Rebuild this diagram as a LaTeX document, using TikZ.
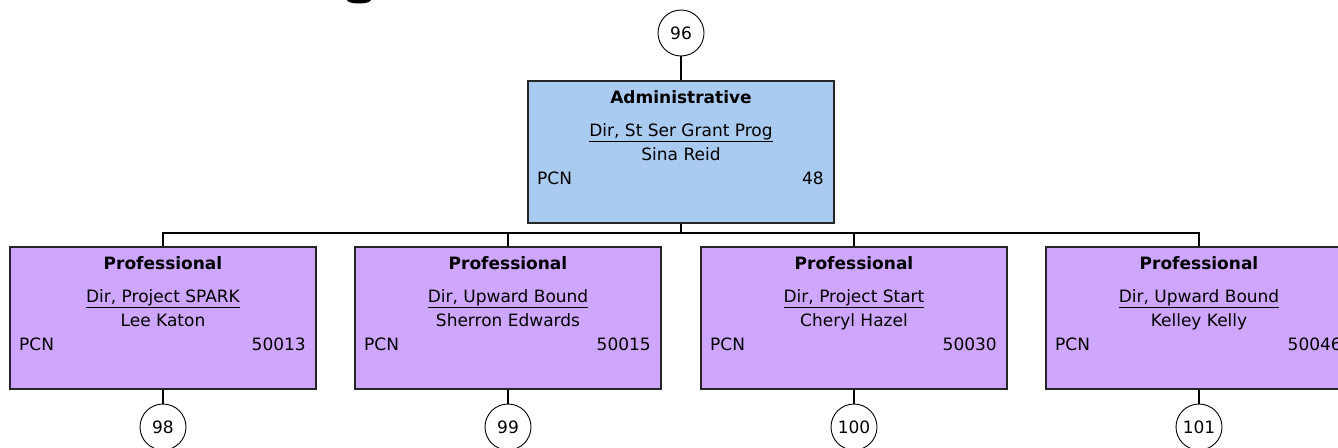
\documentclass[tikz,border=0pt]{standalone}
\usepackage{fontspec}
\setmainfont{DejaVu Sans}
\definecolor{admfill}{HTML}{A9CBF0}
\definecolor{profill}{HTML}{CFA6FE}
\tikzset{
  unitbox/.style={draw=black!85, line width=1.6pt, minimum width=306pt, minimum height=142pt, inner sep=0pt, anchor=north},
  txt/.style={inner sep=0pt, anchor=base, font=\fontsize{17}{20}\selectfont},
  hdr/.style={txt, font=\fontsize{17}{20}\selectfont\bfseries},
  numcircle/.style={circle, draw=black, line width=0.9pt, fill=white, minimum size=46pt, inner sep=0pt, font=\fontsize{17}{20}\selectfont},
  conn/.style={draw=black, line width=1.6pt},
}
\newcommand\OrgUnit[8]{%
  \node[unitbox, fill=#4] (#1) at (#2,#3) {};
  \node[hdr] (#1h) at (#2,#3+23) {#5};
  \node[txt] (#1t) at (#2,#3+56) {\underline{#6}};
  \node[txt] (#1n) at (#2,#3+80) {#7};
  \node[txt, anchor=base west] (#1p) at (#2-144,#3+104) {PCN};
  \node[txt, anchor=base east] (#1c) at (#2+143,#3+104) {#8};
}
\begin{document}
\begin{tikzpicture}[x=1pt,y=-1pt]
  \useasboundingbox (0,0) rectangle (1338,447);
  \clip (0,0) rectangle (1338,447);
  \fill[black] (359,0) ellipse [x radius=12, y radius=3.5];

  \node[numcircle] (n96) at (681,33) {96};
  \OrgUnit{adm}{681}{80}{admfill}{Administrative}{Dir, St Ser Grant Prog}{Sina Reid}{48}
  \OrgUnit{pa}{163}{246}{profill}{Professional}{Dir, Project SPARK}{Lee Katon}{50013}
  \OrgUnit{pb}{508}{246}{profill}{Professional}{Dir, Upward Bound}{Sherron Edwards}{50015}
  \OrgUnit{pc}{854}{246}{profill}{Professional}{Dir, Project Start}{Cheryl Hazel}{50030}
  \OrgUnit{pd}{1199}{246}{profill}{Professional}{Dir, Upward Bound}{Kelley Kelly}{50046}

  \node[numcircle] (n98) at (163,427) {98};
  \node[numcircle] (n99) at (508,427) {99};
  \node[numcircle] (n100) at (854,427) {100};
  \node[numcircle] (n101) at (1199,427) {101};

  \coordinate (bus) at (681,233);
  \draw[conn] (n96.south) -- (adm.north);
  \draw[conn] (adm.south) -- (bus) -| (pa.north);
  \draw[conn] (bus) -| (pb.north);
  \draw[conn] (bus) -| (pc.north);
  \draw[conn] (bus) -| (pd.north);
  \draw[conn] (pa.south) -- (n98.north);
  \draw[conn] (pb.south) -- (n99.north);
  \draw[conn] (pc.south) -- (n100.north);
  \draw[conn] (pd.south) -- (n101.north);
\end{tikzpicture}
\end{document}
